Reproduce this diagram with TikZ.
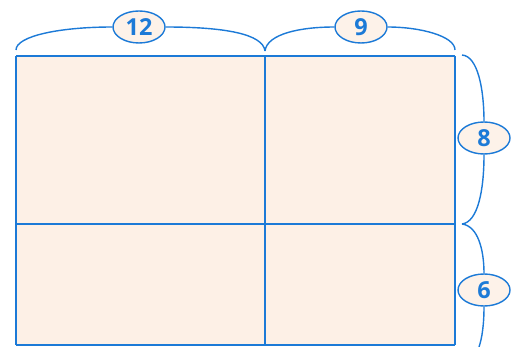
\documentclass[tikz,border=0pt]{standalone}
\usepackage{fontspec}
\setsansfont{Open Sans}
\usepackage{tikz}
\usepackage{xcolor}
\usetikzlibrary{positioning, shapes.geometric, calc}
\definecolor{lineblue}{RGB}{28,122,215}
\definecolor{peach}{RGB}{253,240,230}
\definecolor{labelfill}{RGB}{253,242,233}

\begin{document}
\begin{tikzpicture}[x=0.03cm, y=-0.03cm,
    gridline/.style={lineblue, line width=1.6pt},
    braceline/.style={lineblue, line width=1.2pt},
    sizelabel/.style={ellipse, draw=lineblue, line width=1.2pt, fill=labelfill,
      text=lineblue, font=\sffamily\bfseries\fontsize{20}{20}\selectfont,
      inner sep=0pt, minimum width=1.56cm, minimum height=0.96cm}]
    \useasboundingbox (0,0) rectangle (511,347);
    \clip (0,0) rectangle (511,347);
    \fill[peach] (16,56) rectangle (455,345);
    \foreach \x in {16, 265, 455} {
      \draw[gridline] (\x,56) -- (\x,345);
    }
    \foreach \y in {56, 224, 345} {
      \draw[gridline] (16,\y) -- (455,\y);
    }
    % labels
    \node[sizelabel] (lbl12) at (139,27) {12};
    \node[sizelabel] (lbl9) at (361,27) {9};
    \node[sizelabel] (lbl8) at (484,138) {8};
    \node[sizelabel] (lbl6) at (484,290) {6};
    \coordinate (topleft) at (16,50);
    \coordinate (topmid) at (265,51);
    \coordinate (topright) at (455,50);
    \coordinate (righttop) at (462,55);
    \coordinate (rightmid) at (462,224);
    \coordinate (rightend) at (479,347);
    % braces
    \draw[braceline] (topleft) .. controls (16,36) and (60,27) .. (lbl12.west);
    \draw[braceline] (lbl12.east) .. controls (225,27) and (263,34) .. (topmid);
    \draw[braceline] (topmid) .. controls (267,34) and (300,27) .. (lbl9.west);
    \draw[braceline] (lbl9.east) .. controls (420,27) and (455,36) .. (topright);
    \draw[braceline] (righttop) .. controls (478,56) and (484,90) .. (lbl8.north);
    \draw[braceline] (lbl8.south) .. controls (484,190) and (478,222) .. (rightmid);
    \draw[braceline] (rightmid) .. controls (478,226) and (484,250) .. (lbl6.north);
    \draw[braceline] (lbl6.south) .. controls (484,325) and (482,338) .. (rightend);
  \end{tikzpicture}
\end{document}
